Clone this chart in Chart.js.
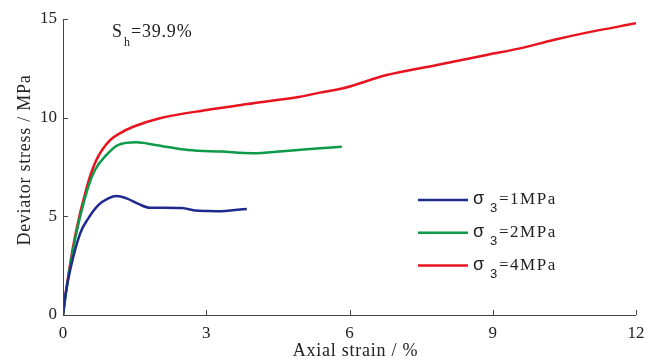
<!DOCTYPE html>
<html>
<head>
<meta charset="utf-8">
<script src="https://cdn.jsdelivr.net/npm/chart.js@4.4.0/dist/chart.umd.min.js"></script>
<style>
  html, body { margin: 0; padding: 0; background: #fff; }
  #wrap { width: 656px; height: 360px; position: relative; }
</style>
</head>
<body>
<div id="wrap"><canvas id="c" width="656" height="360"></canvas></div>
<script>
// Axial strain (%) and deviator stress (MPa) for each confining pressure
const strain1 = [0, 0.05, 0.15, 0.36, 0.53, 0.74, 0.95, 1.12, 1.33, 1.58, 1.82, 2.1, 2.49, 2.76, 3.05, 3.32, 3.6, 3.85];
const stress1 = [0, 1.0, 2.28, 4.14, 4.9, 5.57, 5.91, 6.03, 5.91, 5.63, 5.43, 5.44, 5.42, 5.3, 5.27, 5.26, 5.32, 5.37];

const strain2 = [0, 0.08, 0.25, 0.53, 0.67, 0.91, 1.16, 1.54, 1.93, 2.62, 3.32, 3.98, 4.6, 5.17, 5.84];
const stress2 = [0, 1.4, 3.8, 6.5, 7.35, 8.11, 8.62, 8.75, 8.62, 8.36, 8.28, 8.2, 8.3, 8.41, 8.53];

const strain4 = [0, 0.08, 0.25, 0.5, 0.7, 0.98, 1.2, 1.47, 2.03, 3.01, 3.99, 4.96, 5.38, 5.87, 6.78, 7.83, 8.87, 9.57, 10.27, 10.97, 12.0];
const stress4 = [0, 1.5, 3.97, 6.5, 7.86, 8.85, 9.22, 9.54, 9.97, 10.39, 10.73, 11.06, 11.27, 11.49, 12.16, 12.67, 13.18, 13.51, 13.94, 14.31, 14.78];

const seriesLabels = ['=1MPa', '=2MPa', '=4MPa'];
const xTicks = [0, 3, 6, 9, 12];
const yTicks = [0, 5, 10, 15];
const xTitle = 'Axial strain / %';
const yTitle = 'Deviator stress / MPa';

const serif = '"Liberation Serif", "Times New Roman", serif';
const sans = '"Liberation Sans", Arial, sans-serif';
const axisColor = '#444';
const textColor = '#222';

function pts(xs, ys) { return xs.map((x, i) => ({ x: x, y: ys[i] })); }

// Inward tick marks, frame lines, axis titles, legend and note
const decor = {
  id: 'decor',
  afterDraw(chart) {
    const ctx = chart.ctx;
    const xs = chart.scales.x, ys = chart.scales.y;
    const a = chart.chartArea;
    ctx.save();
    ctx.strokeStyle = axisColor;
    ctx.lineWidth = 1;
    ctx.beginPath();
    ctx.moveTo(a.left + 0.5, a.top);
    ctx.lineTo(a.left + 0.5, a.bottom + 0.5);
    ctx.lineTo(a.right, a.bottom + 0.5);
    xTicks.forEach(v => {
      const px = Math.round(xs.getPixelForValue(v)) + 0.5;
      ctx.moveTo(px, a.bottom);
      ctx.lineTo(px, a.bottom - 5);
    });
    yTicks.forEach(v => {
      const py = Math.round(ys.getPixelForValue(v)) + 0.5;
      ctx.moveTo(a.left, py);
      ctx.lineTo(a.left + 5, py);
    });
    ctx.stroke();

    ctx.fillStyle = textColor;
    ctx.textBaseline = 'alphabetic';

    // axis titles
    ctx.font = '18px ' + serif;
    ctx.letterSpacing = '0.75px';
    ctx.textAlign = 'center';
    ctx.fillText(xTitle, (a.left + a.right) / 2 + 6, 356);
    ctx.save();
    ctx.translate(30, (a.top + a.bottom) / 2 - 7);
    ctx.rotate(-Math.PI / 2);
    ctx.fillText(yTitle, 0, 0);
    ctx.restore();
    ctx.textAlign = 'left';

    // legend
    chart.data.datasets.forEach((ds, i) => {
      const y = 200 + i * 32.8;
      ctx.strokeStyle = ds.borderColor;
      ctx.lineWidth = 2.5;
      ctx.beginPath();
      ctx.moveTo(418, y);
      ctx.lineTo(468, y);
      ctx.stroke();
      ctx.letterSpacing = '0px';
      ctx.font = '18px ' + sans;
      ctx.fillText('σ', 473, y + 4);
      ctx.font = '13px ' + sans;
      ctx.fillText('3', 490, y + 12);
      ctx.font = '17px ' + serif;
      ctx.letterSpacing = '1.5px';
      ctx.fillText(seriesLabels[i], 499, y + 4);
    });

    // saturation note
    ctx.letterSpacing = '0.8px';
    ctx.font = '18px ' + serif;
    ctx.fillText('S', 112, 37);
    ctx.font = '12px ' + serif;
    ctx.fillText('h', 124, 46);
    ctx.font = '18px ' + serif;
    ctx.fillText('=39.9%', 131, 37);
    ctx.restore();
  }
};

new Chart(document.getElementById('c'), {
  type: 'line',
  data: {
    datasets: [
      { data: pts(strain1, stress1), borderColor: '#1e2a8e' },
      { data: pts(strain2, stress2), borderColor: '#0e9a48' },
      { data: pts(strain4, stress4), borderColor: '#e8131f' }
    ]
  },
  options: {
    responsive: false,
    animation: false,
    devicePixelRatio: 1,
    layout: { padding: { top: 19, right: 20, left: 0, bottom: 0 } },
    elements: {
      line: { borderWidth: 2.5, tension: 0.4, cubicInterpolationMode: 'monotone', fill: false },
      point: { radius: 0 }
    },
    plugins: { legend: { display: false }, tooltip: { enabled: false } },
    scales: {
      x: {
        type: 'linear', min: 0, max: 12,
        afterBuildTicks(s) { s.ticks = xTicks.map(v => ({ value: v })); },
        afterFit(s) { s.height = 45; },
        grid: { display: false, drawTicks: false },
        border: { display: false },
        ticks: { color: textColor, font: { family: serif, size: 17 }, padding: 8, maxRotation: 0 }
      },
      y: {
        type: 'linear', min: 0, max: 15,
        afterBuildTicks(s) { s.ticks = yTicks.map(v => ({ value: v })); },
        afterFit(s) { s.width = 63; },
        grid: { display: false, drawTicks: false },
        border: { display: false },
        ticks: { color: textColor, font: { family: serif, size: 17 }, padding: 6 }
      }
    }
  },
  plugins: [decor]
});
</script>
</body>
</html>
